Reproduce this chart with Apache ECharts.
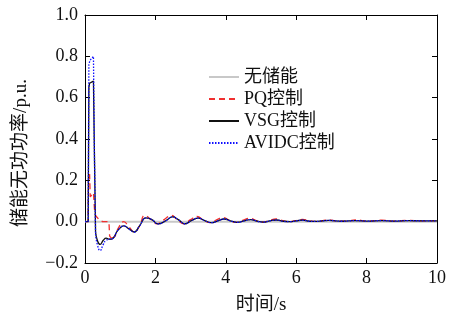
<!DOCTYPE html>
<html><head><meta charset="utf-8">
<script src="https://cdn.jsdelivr.net/npm/echarts@6/dist/echarts.min.js"></script>
<style>html,body{margin:0;padding:0;background:#fff}#c{width:454px;height:320px}</style>
</head><body><div id="c"></div>
<script>
const seriesNames = ['无储能', 'PQ控制', 'VSG控制', 'AVIDC控制'];
const xTicks = [0, 2, 4, 6, 8, 10];
const yTicks = [-0.2, 0.0, 0.2, 0.4, 0.6, 0.8, 1.0];

const noStorage = [[0,0],[10,0]];
// fault transient (sharp) part, then damped oscillation (smooth) part
const pqSpike = [[0,0],[0.09,0],[0.1,0.2],[0.13,0.23],[0.15,0.12],[0.2,0.12],[0.24,0.14],[0.27,0.06],[0.3,0.03],[0.4,0.01],[0.5,0.0],[0.68,0.0],[0.7,-0.07],[0.75,-0.08]];
const pqOsc = [[0.75,-0.08],[0.85,-0.07],[0.95,-0.03],[1.1,0.0],[1.25,-0.025],[1.4,-0.05],[1.55,-0.02],[1.7,0.03],[1.88,0.01],[2.05,-0.01],[2.25,0.01],[2.45,0.03],[2.62,0.01],[2.8,-0.01],[3.0,0.01],[3.18,0.025],[3.38,0.005],[3.57,-0.005],[3.75,0.01],[3.93,0.02],[4.12,0.005],[4.3,-0.003],[4.5,0.008],[4.68,0.016],[4.87,0.005],[5.05,-0.002],[5.25,0.007],[5.43,0.013],[5.62,0.005],[5.8,0.0],[6.0,0.006],[6.18,0.011],[6.37,0.005],[6.55,0.001],[6.75,0.005],[6.93,0.009],[7.12,0.004],[7.3,0.002],[7.5,0.005],[7.68,0.008],[8.05,0.003],[8.43,0.007],[8.8,0.003],[9.18,0.006],[9.55,0.004],[10,0.005]];
const vsgSpike = [[0,0],[0.09,0],[0.11,0.65],[0.13,0.67],[0.24,0.68],[0.27,0.3],[0.3,-0.05]];
const vsgOsc = [[0.3,-0.05],[0.35,-0.09],[0.43,-0.11],[0.52,-0.09],[0.6,-0.08],[0.7,-0.085],[0.8,-0.08],[0.9,-0.05],[1.0,-0.03],[1.1,-0.02],[1.25,-0.035],[1.4,-0.05],[1.55,-0.02],[1.73,0.018],[1.9,0.01],[2.08,-0.011],[2.3,0.005],[2.49,0.023],[2.65,0.01],[2.84,-0.01],[3.02,0.005],[3.22,0.017],[3.4,0.005],[3.6,-0.005],[3.77,0.004],[3.95,0.013],[4.15,0.003],[4.33,-0.003],[4.52,0.004],[4.7,0.01],[4.9,0.002],[5.07,-0.002],[5.25,0.004],[5.45,0.008],[5.63,0.002],[5.82,0.0],[6.0,0.004],[6.18,0.007],[6.37,0.002],[6.55,0.001],[6.75,0.004],[6.93,0.006],[7.3,0.002],[7.68,0.005],[8.05,0.003],[8.43,0.005],[8.8,0.003],[9.18,0.005],[9.55,0.004],[10,0.004]];
const avidcSpike = [[0,0],[0.09,0],[0.11,0.76],[0.14,0.78],[0.24,0.8],[0.27,0.3],[0.3,-0.06]];
const avidcOsc = [[0.3,-0.06],[0.35,-0.11],[0.43,-0.14],[0.52,-0.11],[0.6,-0.09],[0.7,-0.085],[0.8,-0.08],[0.9,-0.05],[1.0,-0.03],[1.1,-0.02],[1.25,-0.035],[1.4,-0.05],[1.55,-0.02],[1.73,0.018],[1.9,0.01],[2.08,-0.011],[2.3,0.005],[2.49,0.023],[2.65,0.01],[2.84,-0.01],[3.02,0.005],[3.22,0.017],[3.4,0.005],[3.6,-0.005],[3.77,0.004],[3.95,0.013],[4.15,0.003],[4.33,-0.003],[4.52,0.004],[4.7,0.01],[4.9,0.002],[5.07,-0.002],[5.25,0.004],[5.45,0.008],[5.63,0.002],[5.82,0.0],[6.0,0.004],[6.18,0.007],[6.37,0.002],[6.55,0.001],[6.75,0.004],[6.93,0.006],[7.3,0.002],[7.68,0.005],[8.05,0.003],[8.43,0.005],[8.8,0.003],[9.18,0.005],[9.55,0.004],[10,0.004]];

const FONT = '"Liberation Serif", "Noto Sans CJK SC", serif';
const chart = echarts.init(document.getElementById('c'), null, {renderer: 'canvas'});
const fmtY = v => (v < 0 ? '\u2212' : '') + Math.abs(v).toFixed(1);
const axisCommon = {
  axisLine: {show: true, onZero: false, lineStyle: {color: '#000', width: 1}},
  axisTick: {show: true, inside: true, length: 5, lineStyle: {color: '#000'}},
  splitLine: {show: false}
};
const styles = {
  '无储能': {color: '#c8c8c8', width: 2, type: 'solid'},
  'PQ控制': {color: '#f03030', width: 1.3, type: [6, 4]},
  'VSG控制': {color: '#111', width: 1.3, type: 'solid'},
  'AVIDC控制': {color: '#1010ff', width: 1.3, type: [1.5, 1.5]}
};
function mk(name, data, smooth, z) {
  const s = styles[name];
  return {name, type: 'line', data, symbol: 'none', showSymbol: false, smooth: smooth,
    lineStyle: {color: s.color, width: s.width, type: s.type}, itemStyle: {color: s.color}, z};
}
chart.setOption({
  animation: false,
  textStyle: {fontFamily: FONT},
  grid: {left: 85, right: 17, top: 15, bottom: 56, containLabel: false},
  legend: {
    orient: 'vertical', left: 203, top: 63, itemWidth: 30, itemHeight: 14, itemGap: 4,
    itemStyle: {opacity: 0},
    textStyle: {fontFamily: FONT, fontSize: 18, color: '#111'},
    data: seriesNames
  },
  xAxis: [
    Object.assign({type: 'value', min: xTicks[0], max: xTicks[xTicks.length-1], interval: 2, position: 'bottom',
      name: '时间/s', nameLocation: 'middle', nameGap: 33,
      nameTextStyle: {fontFamily: FONT, fontSize: 19, color: '#111'},
      axisLabel: {fontFamily: FONT, fontSize: 18, color: '#111', margin: 6}}, axisCommon),
    Object.assign({type: 'value', min: 0, max: 10, interval: 2, position: 'top', axisLabel: {show: false}}, axisCommon)
  ],
  yAxis: [
    Object.assign({type: 'value', min: yTicks[0], max: yTicks[yTicks.length-1], interval: 0.2, position: 'left',
      name: '储能无功功率/p.u.', nameLocation: 'middle', nameGap: 54, nameRotate: 90,
      nameTextStyle: {fontFamily: FONT, fontSize: 19, color: '#111', padding: [0, 28, 0, 0]},
      axisLabel: {fontFamily: FONT, fontSize: 18, color: '#111', margin: 7, formatter: fmtY}}, axisCommon),
    Object.assign({type: 'value', min: -0.2, max: 1.0, interval: 0.2, position: 'right', axisLabel: {show: false}}, axisCommon)
  ],
  series: [
    mk('无储能', noStorage, false, 1),
    mk('PQ控制', pqSpike, false, 2),
    mk('PQ控制', pqOsc, 0.5, 2),
    mk('VSG控制', vsgSpike, false, 3),
    mk('VSG控制', vsgOsc, 0.5, 3),
    mk('AVIDC控制', avidcSpike, false, 4),
    mk('AVIDC控制', avidcOsc, 0.5, 4)
  ]
});
</script></body></html>
